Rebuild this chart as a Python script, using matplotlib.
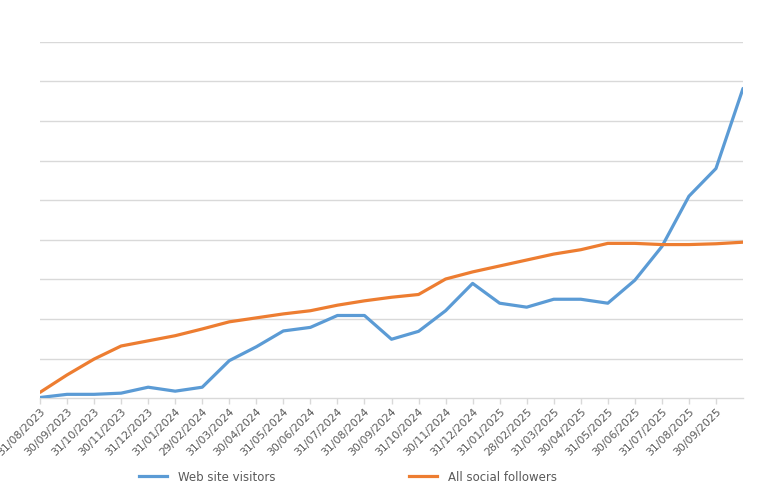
import matplotlib
matplotlib.use("Agg")
import matplotlib.pyplot as plt
from matplotlib.lines import Line2D

dates = ["31/08/2023", "30/09/2023", "31/10/2023", "30/11/2023", "31/12/2023",
         "31/01/2024", "29/02/2024", "31/03/2024", "30/04/2024", "31/05/2024",
         "30/06/2024", "31/07/2024", "31/08/2024", "30/09/2024", "31/10/2024",
         "30/11/2024", "31/12/2024", "31/01/2025", "28/02/2025", "31/03/2025",
         "30/04/2025", "31/05/2025", "30/06/2025", "31/07/2025", "31/08/2025",
         "30/09/2025"]

web_visitors = [0.02, 0.10, 0.10, 0.13, 0.28, 0.18, 0.28, 0.95, 1.30, 1.70,
                1.79, 2.09, 2.09, 1.49, 1.69, 2.21, 2.90, 2.40, 2.30, 2.50,
                2.50, 2.40, 2.98, 3.83, 5.10, 5.80, 7.82]

social_followers = [0.15, 0.59, 0.99, 1.32, 1.45, 1.58, 1.75, 1.93, 2.03, 2.13,
                    2.21, 2.35, 2.46, 2.55, 2.62, 3.01, 3.19, 3.34, 3.49, 3.64,
                    3.75, 3.91, 3.91, 3.88, 3.88, 3.90, 3.94]

W, H = 761, 490
fig = plt.figure(figsize=(W / 100, H / 100), dpi=100)
left, right = 40 / W, 743 / W
bottom, top = 1 - 398.3 / H, 1 - 41.7 / H
ax = fig.add_axes([left, bottom, right - left, top - bottom])

xs = list(range(len(web_visitors)))
ax.plot(xs, web_visitors, color="#5B9BD5", lw=2.3, solid_capstyle="round",
        solid_joinstyle="round", label="Web site visitors", zorder=3)
ax.plot(xs, social_followers, color="#ED7D31", lw=2.3, solid_capstyle="round",
        solid_joinstyle="round", label="All social followers", zorder=3)

ax.set_xlim(0, len(web_visitors) - 1)
ax.set_ylim(0, 9)
ax.set_yticks(range(1, 10))
ax.yaxis.grid(True, color="#D9D9D9", lw=1)
ax.set_axisbelow(True)
ax.tick_params(axis="y", left=False, labelleft=False)
for s in ["left", "right", "top"]:
    ax.spines[s].set_visible(False)
ax.spines["bottom"].set_color("#D9D9D9")
ax.spines["bottom"].set_linewidth(1)

ax.set_xticks(range(len(dates)))
ax.set_xticklabels(dates, rotation=45, ha="right", va="top",
                   rotation_mode="anchor", fontsize=7.8, color="#595959",
                   family="DejaVu Sans")
ax.tick_params(axis="x", length=4, color="#D9D9D9", width=1, pad=2)

handles = [Line2D([], [], color="#5B9BD5", lw=2.3),
           Line2D([], [], color="#ED7D31", lw=2.3)]
fig.legend(handles, ["Web site visitors", "All social followers"],
           loc="center", bbox_to_anchor=(348 / W, 1 - 477 / H), ncol=2,
           frameon=False, fontsize=8.5, labelcolor="#595959",
           handlelength=2.4, handletextpad=0.9, columnspacing=11.3)

fig.savefig("out.png", dpi=100, facecolor="white")
